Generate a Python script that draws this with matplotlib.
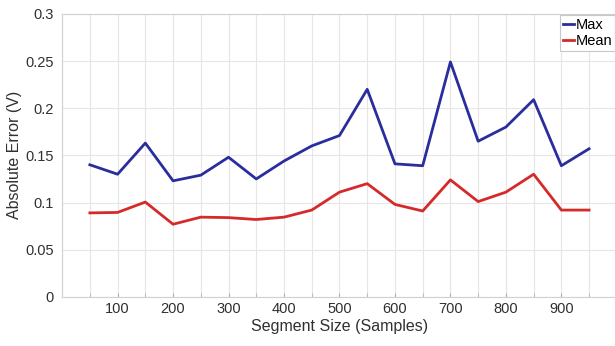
import matplotlib.pyplot as plt
from matplotlib.ticker import MultipleLocator

plt.rcParams['font.family'] = ['Liberation Sans', 'DejaVu Sans']

# segment sizes and error values
segment_size = [50, 100, 150, 200, 250, 300, 350, 400, 450, 500,
                550, 600, 650, 700, 750, 800, 850, 900, 950]
max_error = [0.140, 0.130, 0.163, 0.123, 0.129, 0.148, 0.125, 0.144, 0.160, 0.171,
             0.220, 0.141, 0.139, 0.249, 0.165, 0.180, 0.209, 0.139, 0.157]
mean_error = [0.089, 0.0895, 0.1005, 0.077, 0.0845, 0.084, 0.082, 0.0845, 0.092, 0.111,
              0.120, 0.098, 0.091, 0.124, 0.101, 0.111, 0.130, 0.092, 0.092]

xticks = [100, 200, 300, 400, 500, 600, 700, 800, 900]
yticks = [0, 0.05, 0.1, 0.15, 0.2, 0.25, 0.3]
ytick_labels = ['0', '0.05', '0.1', '0.15', '0.2', '0.25', '0.3']

fig = plt.figure(figsize=(6.15, 3.46), dpi=100)
ax = fig.add_axes([0.101, 0.142, 0.902, 0.818])

ax.plot(segment_size, max_error, color='#2a2d9c', lw=2.0, label='Max')
ax.plot(segment_size, mean_error, color='#d42a2a', lw=2.0, label='Mean')

ax.set_xlim(0, 1000)
ax.set_ylim(0, 0.3)
ax.set_xticks(xticks)
ax.xaxis.set_minor_locator(MultipleLocator(50))
ax.set_yticks(yticks)
ax.set_yticklabels(ytick_labels)

ax.grid(True, which='both', axis='x', color='#e6e6e6', lw=0.8)
ax.grid(True, which='major', axis='y', color='#e6e6e6', lw=0.8)
ax.set_axisbelow(True)

for s in ax.spines.values():
    s.set_color('#d0d0d0')
    s.set_linewidth(0.8)

ax.tick_params(axis='both', which='both', direction='in', color='#b0b0b0',
               labelsize=10.5, labelcolor='#303030', length=3)
ax.tick_params(axis='x', which='both', top=False)
ax.tick_params(axis='y', length=0, pad=6)

ax.set_xlabel('Segment Size (Samples)', fontsize=11.5, color='#303030', labelpad=2)
ax.set_ylabel('Absolute Error (V)', fontsize=11.5, color='#303030', labelpad=2)

leg = ax.legend(loc='upper right', fontsize=10.5, handlelength=0.8, handletextpad=0.1,
                borderpad=0.2, labelspacing=0.15, fancybox=False, framealpha=1,
                borderaxespad=0.1)
leg.get_frame().set_edgecolor('#c8c8c8')
leg.get_frame().set_linewidth(0.8)

fig.savefig('out.png', dpi=100)
